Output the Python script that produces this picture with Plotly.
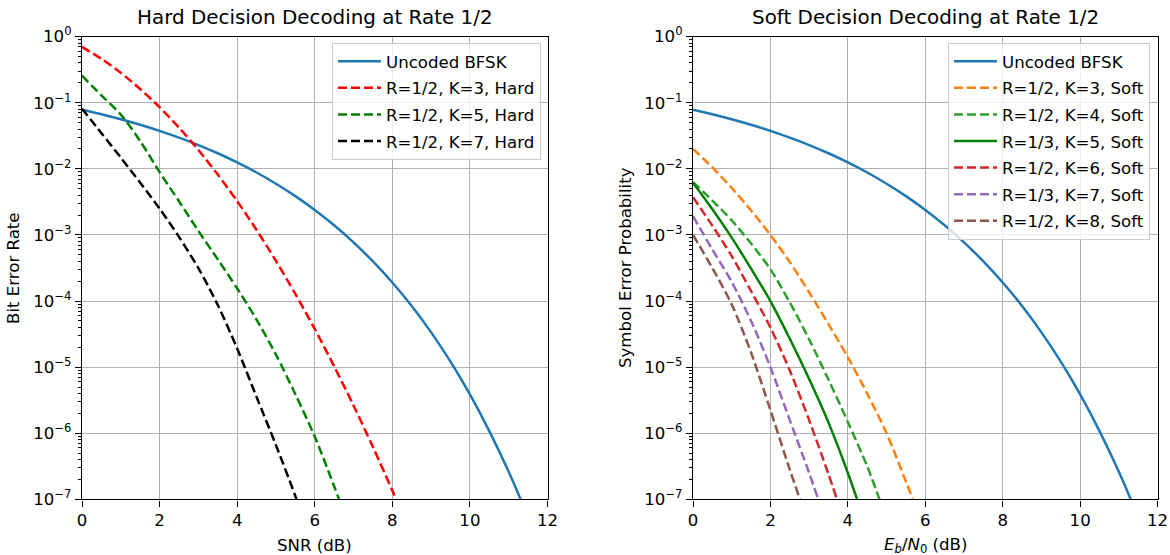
import plotly.graph_objects as go

# ---------------- data ----------------
snr_db = [0.0, 0.5, 1.0, 1.5, 2.0, 2.5, 3.0, 3.5, 4.0, 4.5, 5.0, 5.5, 6.0,
          6.5, 7.0, 7.5, 8.0, 8.5, 9.0, 9.5, 10.0, 10.5, 11.0, 11.5, 12.0]

uncoded_bfsk = [7.86e-2, 6.71e-2, 5.63e-2, 4.64e-2, 3.75e-2, 2.96e-2, 2.29e-2,
                1.72e-2, 1.25e-2, 8.8e-3, 5.95e-3, 3.86e-3, 2.39e-3, 1.40e-3,
                7.73e-4, 3.98e-4, 1.91e-4, 8.4e-5, 3.36e-5, 1.21e-5, 3.87e-6,
                1.08e-6, 2.61e-7, 5.3e-8, 9.0e-9]

# Hard decision (R=1/2)
hard_k3 = [0.698, 0.461, 0.283, 0.161, 0.0855, 0.0421, 0.0193, 8.18e-3, 3.24e-3,
           1.19e-3, 4.05e-4, 1.28e-4, 3.78e-5, 1.03e-5, 2.63e-6, 6.21e-7,
           1.36e-7, 2.8e-8]
hard_k5 = [0.257, 0.129, 0.0661, 0.0263, 8.91e-3, 3.24e-3, 1.15e-3, 4.27e-4,
           1.55e-4, 5.25e-5, 1.55e-5, 3.89e-6, 8.91e-7, 1.58e-7, 2.5e-8]
hard_k7 = [0.0813, 0.0347, 0.0148, 6.17e-3, 2.51e-3, 9.33e-4, 3.16e-4, 8.71e-5,
           1.91e-5, 3.55e-6, 6.61e-7, 1.12e-7, 1.58e-8]

# Soft decision
soft_r12_k3 = [0.0200, 1.05e-2, 5.13e-3, 2.34e-3, 1.0e-3, 3.89e-4, 1.35e-4,
               4.47e-5, 1.41e-5, 3.98e-6, 1.0e-6, 1.86e-7, 3.16e-8]
soft_r12_k4 = [6.31e-3, 3.31e-3, 1.66e-3, 7.41e-4, 3.02e-4, 9.55e-5, 2.63e-5,
               6.46e-6, 1.48e-6, 3.16e-7, 5.01e-8]
soft_r13_k5 = [6.17e-3, 2.45e-3, 9.12e-4, 3.09e-4, 1.0e-4, 2.69e-5, 6.61e-6,
               1.45e-6, 2.51e-7, 3.55e-8]
soft_r12_k6 = [3.72e-3, 1.38e-3, 4.79e-4, 1.41e-4, 3.98e-5, 8.91e-6, 1.58e-6,
               2.40e-7, 3.16e-8]
soft_r13_k7 = [1.91e-3, 6.03e-4, 1.95e-4, 5.01e-5, 1.0e-5, 1.58e-6, 2.51e-7,
               3.55e-8]
soft_r12_k8 = [1.0e-3, 3.16e-4, 8.91e-5, 1.66e-5, 2.24e-6, 2.82e-7, 3.98e-8]

ytick_vals = [1, 1e-1, 1e-2, 1e-3, 1e-4, 1e-5, 1e-6, 1e-7]
ytick_text = ["10<sup>0</sup>", "10<sup>\u22121</sup>", "10<sup>\u22122</sup>",
              "10<sup>\u22123</sup>", "10<sup>\u22124</sup>", "10<sup>\u22125</sup>",
              "10<sup>\u22126</sup>", "10<sup>\u22127</sup>"]
xtick_vals = [0, 2, 4, 6, 8, 10, 12]

# ---------------- styling ----------------
FONT = "DejaVu Sans"
FS = 16.6
TFS = 19.9
DASH = "9px,4px"
LW = 2.5

fig = go.Figure()

def add(vals, name, color, dash, xa, ya, leg, grp):
    fig.add_trace(go.Scatter(
        x=snr_db[:len(vals)], y=vals, name=name, mode="lines",
        line=dict(color=color, width=LW, dash=dash, shape="spline", smoothing=0.8),
        xaxis=xa, yaxis=ya, legend=leg, legendgroup=grp, showlegend=True))

# left panel
add(uncoded_bfsk, "Uncoded BFSK", "#1f77b4", "solid", "x", "y", "legend", "a1")
add(hard_k3, "R=1/2, K=3, Hard", "#ff0000", DASH, "x", "y", "legend", "a2")
add(hard_k5, "R=1/2, K=5, Hard", "#008000", DASH, "x", "y", "legend", "a3")
add(hard_k7, "R=1/2, K=7, Hard", "#000000", DASH, "x", "y", "legend", "a4")

# right panel
add(uncoded_bfsk, "Uncoded BFSK", "#1f77b4", "solid", "x2", "y2", "legend2", "b1")
add(soft_r12_k3, "R=1/2, K=3, Soft", "#ff7f0e", DASH, "x2", "y2", "legend2", "b2")
add(soft_r12_k4, "R=1/2, K=4, Soft", "#2ca02c", DASH, "x2", "y2", "legend2", "b3")
add(soft_r13_k5, "R=1/3, K=5, Soft", "#008000", "solid", "x2", "y2", "legend2", "b4")
add(soft_r12_k6, "R=1/2, K=6, Soft", "#d62728", DASH, "x2", "y2", "legend2", "b5")
add(soft_r13_k7, "R=1/3, K=7, Soft", "#9467bd", DASH, "x2", "y2", "legend2", "b6")
add(soft_r12_k8, "R=1/2, K=8, Soft", "#8c564b", DASH, "x2", "y2", "legend2", "b7")

W, H = 1170, 555
left_dom = [82 / W, 547.5 / W]
right_dom = [693 / W, 1157.6 / W]
y_dom = [1 - 499.4 / H, 1 - 36.6 / H]

minor_vals = [m * 10 ** e for e in range(-7, 0) for m in range(2, 10)]

def xaxis_cfg(dom, anchor):
    return dict(domain=dom, anchor=anchor, range=[0, 12], tickmode="array",
                tickvals=xtick_vals, ticks="outside", ticklen=6, tickwidth=1.3,
                tickcolor="black", showline=True, linecolor="black", linewidth=1.3,
                mirror=True, showgrid=True, gridcolor="#b0b0b0", gridwidth=1.3,
                zeroline=False, automargin=False,
                tickfont=dict(family=FONT, size=FS, color="black"))

def yaxis_cfg(anchor):
    return dict(domain=y_dom, anchor=anchor, type="log", range=[-7, 0],
                tickmode="array", tickvals=ytick_vals, ticktext=ytick_text,
                ticks="outside", ticklen=6, tickwidth=1.3, tickcolor="black",
                showline=True, linecolor="black", linewidth=1.3, mirror=True,
                showgrid=True, gridcolor="#b0b0b0", gridwidth=1.3, zeroline=False,
                automargin=False,
                tickfont=dict(family=FONT, size=FS, color="black"),
                minor=dict(tickmode="array", tickvals=minor_vals, ticks="outside",
                           ticklen=3.3, tickwidth=1, tickcolor="black", showgrid=False))

legend_common = dict(xanchor="right", yanchor="top", bgcolor="rgba(255,255,255,0.8)",
                     bordercolor="#cccccc", borderwidth=1,
                     font=dict(family=FONT, size=FS, color="black"),
                     traceorder="grouped", tracegroupgap=2, itemwidth=43)

fig.update_layout(
    width=W, height=H, autosize=False,
    margin=dict(l=0, r=0, t=0, b=0, pad=0),
    paper_bgcolor="white", plot_bgcolor="white",
    font=dict(family=FONT, size=FS, color="black"),
    xaxis=xaxis_cfg(left_dom, "y"),
    yaxis=yaxis_cfg("x"),
    xaxis2=xaxis_cfg(right_dom, "y2"),
    yaxis2=yaxis_cfg("x2"),
    legend=dict(x=541 / W, y=1 - 43 / H, **legend_common),
    legend2=dict(x=1150 / W, y=1 - 43 / H, **legend_common),
    showlegend=True,
)

ann_font = dict(family=FONT, size=FS, color="black")
annotations = [
    dict(text="Hard Decision Decoding at Rate 1/2", x=sum(left_dom) / 2, y=1 - 17 / H,
         font=dict(family=FONT, size=TFS, color="black")),
    dict(text="Soft Decision Decoding at Rate 1/2", x=sum(right_dom) / 2, y=1 - 17 / H,
         font=dict(family=FONT, size=TFS, color="black")),
    dict(text="SNR (dB)", x=sum(left_dom) / 2, y=1 - 545 / H, font=ann_font),
    dict(text="<i>E</i><sub><i>b</i></sub>/<i>N</i><sub>0</sub> (dB)",
         x=sum(right_dom) / 2, y=1 - 545 / H, font=ann_font),
    dict(text="Bit Error Rate", x=13 / W, y=1 - 268 / H, textangle=-90, font=ann_font),
    dict(text="Symbol Error Probability", x=625 / W, y=1 - 268 / H, textangle=-90,
         font=ann_font),
]
for a in annotations:
    fig.add_annotation(xref="paper", yref="paper", showarrow=False,
                       xanchor="center", yanchor="middle", **a)

fig.write_html("out.html")
